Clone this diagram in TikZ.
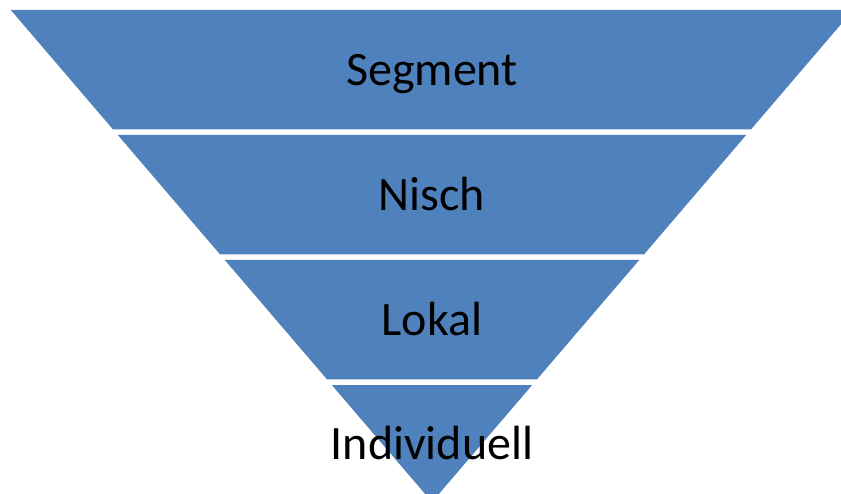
\documentclass[tikz,border=0pt]{standalone}
\usepackage{fontspec}
\setmainfont{Carlito}
\definecolor{bandblue}{HTML}{4F81BD}
\tikzset{band/.style={fill=bandblue},
  bandlabel/.style={font=\fontsize{48}{58}\selectfont,text=black,inner sep=0pt,anchor=base}}

\begin{document}
\begin{tikzpicture}[x=1pt,y=-1pt]
      \useasboundingbox (0,0) rectangle (841,494);
      \clip (0,0) rectangle (841,494);
      % bands of the funnel, top to bottom
      \fill[band] (10.8,10) -- (853.2,10) -- (750.9,129.5) -- (113.1,129.5) -- cycle;
      \fill[band] (117.8,135) -- (746.2,135) -- (643.9,254.5) -- (220.1,254.5) -- cycle;
      \fill[band] (224.8,260) -- (639.2,260) -- (536.9,379.5) -- (327.1,379.5) -- cycle;
      \fill[band] (331.8,385) -- (532.2,385) -- (432,502) -- cycle;
      % labels
      \node[bandlabel] (segment) at (432,85.3) {Segment};
      \node[bandlabel] (nisch) at (432,210.3) {Nisch};
      \node[bandlabel] (lokal) at (432,335.3) {Lokal};
      \node[bandlabel] (individuell) at (432,459) {Individuell};
\end{tikzpicture}
\end{document}
